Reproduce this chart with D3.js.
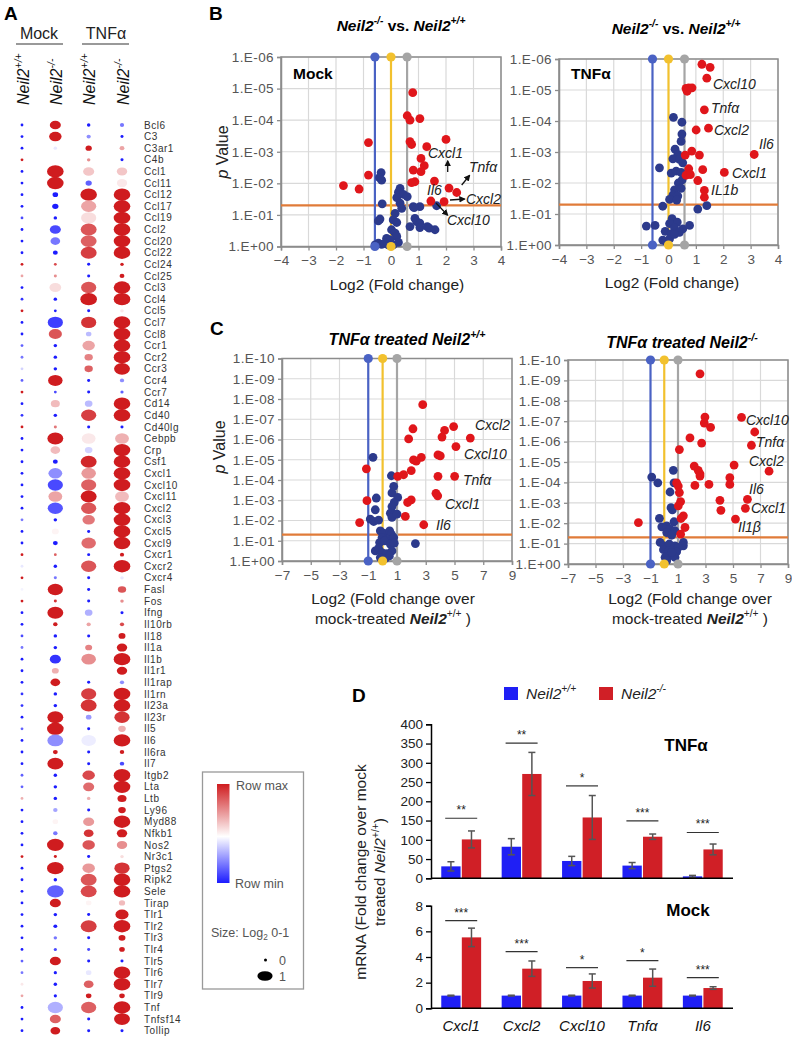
<!DOCTYPE html>
<html><head><meta charset="utf-8">
<script src="https://cdn.jsdelivr.net/npm/d3@7"></script>
<style>
body{margin:0;background:#fff}
svg{display:block}
text{font-family:"Liberation Sans",Arial,Helvetica,sans-serif}
</style>
</head><body>
<svg id="fig" width="792" height="1037"></svg>
<script>
// ---------------- DATA ----------------
const genes = ["Bcl6","C3","C3ar1","C4b","Ccl1","Ccl11","Ccl12","Ccl17","Ccl19","Ccl2","Ccl20","Ccl22","Ccl24","Ccl25","Ccl3","Ccl4","Ccl5","Ccl7","Ccl8","Ccr1","Ccr2","Ccr3","Ccr4","Ccr7","Cd14","Cd40","Cd40lg","Cebpb","Crp","Csf1","Cxcl1","Cxcl10","Cxcl11","Cxcl2","Cxcl3","Cxcl5","Cxcl9","Cxcr1","Cxcr2","Cxcr4","Fasl","Fos","Ifng","Il10rb","Il18","Il1a","Il1b","Il1r1","Il1rap","Il1rn","Il23a","Il23r","Il5","Il6","Il6ra","Il7","Itgb2","Lta","Ltb","Ly96","Myd88","Nfkb1","Nos2","Nr3c1","Ptgs2","Ripk2","Sele","Tirap","Tlr1","Tlr2","Tlr3","Tlr4","Tlr5","Tlr6","Tlr7","Tlr9","Tnf","Tnfsf14","Tollip"];
const dotColumns = ["mockWT","mockKO","tnfWT","tnfKO"];
// row-scaled colour (-1 = row min, 1 = row max)
const colorMockWT = [-1,-1,-1,1,-1,-1,-1,-1,-0.8,-1,-1,-1,1,0.4,-1,-0.9,1,-1,-1,-0.7,-0.6,-0.2,-0.7,1,-1,-0.9,1,-1,-1,-1,-1,-1,-1,-1,-0.6,-1,-1,1,-0.1,1,-0.05,1,-1,-1,-0.8,-0.6,-1,-1,-1,-0.9,-0.9,-1,-0.7,-1,-1,-1,-0.7,-0.7,0.35,-1,-1,-1,-1,1,-1,-1,-1,-1,-1,-1,-1,-1,-0.7,-0.6,0.1,0.4,-1,-1,-1];
const sizeMockWT = [0,0,0,0,0,0,0,0,0,0,0,0,0,0,0,0,0,0,0,0,0,0,0,0,0,0,0,0,0,0,0,0,0,0,0,0,0,0,0,0,0,0,0,0,0,0,0,0,0,0,0,0,0,0,0,0,0,0,0,0,0,0,0,0,0,0,0,0,0,0,0,0,0,0,0,0,0,0,0];
const colorMockKO = [1,1,-0.1,0,1,1,-1,-1,-1,-0.8,-0.6,-1,0.8,0.5,0.15,-1,-1,-0.85,0.75,-1,-1,-1,1,-0.8,0.3,-1,0.6,1,0.3,-1,-0.5,-0.8,0.4,-0.75,-1,0.05,-1,0.7,-1,-0.6,1,0.9,1,1,-1,-1,-0.9,0.35,1,-1,-1,1,1,-0.5,1,1,-1,-1,-1,-0.4,0.05,-0.6,1,1,1,-1,-0.7,1,-1,-1,-0.6,-0.8,1,-1,-1,-1,-0.35,0.7,1];
const sizeMockKO = [0.6,0.7,0.05,0,1,1,0.2,0.25,0.05,0.6,0.5,0.15,0,0.02,0.65,0.05,0,0.9,0.75,0.05,0.05,0.05,0.85,0,0.45,0.05,0.02,0.95,0.5,0.15,0.8,0.9,0.8,0.9,0.05,0.3,0.15,0,0.05,0.02,0.9,0.02,0.95,0.12,0.05,0.05,0.6,0.3,0.5,0.05,0.05,0.95,1,0.95,0.15,0.95,0.05,0.05,0.05,0.12,0.2,0.12,1,0.02,1,0.05,1,0.6,0.05,0.08,0.05,0.03,0.6,0.03,0.05,0.03,0.9,0.6,0.5];
const colorTnfWT = [-1,-0.5,1,0.5,0.25,-0.7,1,0.4,0.15,0.75,0.7,0.85,-1,-1,0.75,1,-1,0.9,-0.3,0.4,0.55,0.7,-1,-1,-0.3,0.85,-1,0.1,-0.2,0.95,0.45,0.7,1,0.75,0.6,-1,0.65,-1,0.75,-1,-1,-1,-0.35,0.4,-1,0.55,0.5,0,-1,0.85,0.9,-0.45,-1,-0.08,-1,-1,0.8,0.65,0.35,-1,0.45,0.9,0.75,-1,0.45,0.75,0.8,0.05,-1,0.85,-1,-0.8,-1,-0.1,0.7,1,0.7,-1,-1];
const sizeTnfWT = [0.05,0.1,0.25,0.05,0.6,0.25,1,0.9,0.9,0.95,0.95,0.95,0.02,0.02,0.9,1,0.02,0.9,0.2,0.7,0.4,0.4,0.02,0.02,0.35,0.9,0.02,0.8,0.35,0.95,0.85,0.9,0.95,0.9,0.7,0.02,0.85,0.02,0.9,0.02,0.02,0.02,0.35,0.1,0.02,0.3,0.85,0.05,0.02,0.9,0.95,0.2,0.02,0.85,0.02,0.02,0.7,0.6,0.05,0.02,0.6,0.5,0.7,0.02,0.7,0.95,0.95,0.2,0.02,0.95,0.02,0.02,0.02,0.2,0.5,0.2,0.9,0.02,0.02];
const colorTnfKO = [-0.6,-1,0.4,-1,0.25,0.1,1,1,1,1,1,1,1,1,1,1,0.1,1,1,1,1,1,-0.5,-0.7,1,1,-1,0.35,1,1,1,1,0.3,1,1,1,1,1,1,-0.1,0.75,0.5,-1,0.8,1,1,1,1,-0.5,1,1,0.9,0.35,1,1,-0.8,1,1,1,1,1,1,0.5,0.15,0.9,1,1,0.3,1,1,1,1,-1,1,1,1,1,1,-1];
const sizeTnfKO = [0.1,0.02,0.15,0.02,0.55,0.55,1,1,1,1,1,1,0.05,0.15,1,1,0.05,1,1,1,1,0.95,0.1,0.03,1,1,0.02,0.8,1,1,1,1,0.8,1,1,1,1,0.1,1,0.05,0.4,0.05,0.02,0.1,0.3,0.55,1,0.55,0.1,1,1,0.9,0.35,1,0.12,0.12,1,1,0.45,0.35,1,0.55,0.55,0.05,0.9,1,1,0.25,0.75,1,0.3,0.2,0.02,1,1,0.2,1,0.95,0.02];

// Volcano plots: [log2 fold change, -log10 p]
const bMockUp = [[0.79,4.87],[0.59,4.14],[0.69,4.0],[1.05,4.05],[-0.82,3.29],[0.69,3.32],[0.75,3.23],[2.0,3.39],[1.3,3.16],[1.09,2.79],[1.21,2.56],[0.81,2.42],[1.09,2.37],[-0.82,2.26],[0.87,2.05],[0.75,2.02],[1.58,2.07],[-1.73,1.93],[-1.16,1.82],[2.11,1.85],[2.39,1.71],[1.45,1.44],[1.93,1.42]];
const bMockNs = [[-0.36,2.34],[-0.42,2.18],[-0.34,2.1],[0.33,1.84],[0.27,1.72],[0.45,1.65],[0.21,1.55],[0.59,1.58],[0.33,1.37],[-0.32,1.35],[0.81,1.26],[1.05,1.26],[0.84,1.23],[0.39,1.21],[0.15,1.05],[1.66,1.29],[-0.4,0.87],[-0.46,0.81],[0.08,0.84],[0.21,0.76],[0.87,0.89],[0.93,0.79],[1.05,0.74],[0.69,0.63],[1.05,0.6],[1.32,0.63],[1.39,0.58],[1.6,0.53],[0.02,0.53],[0.15,0.42],[0.21,0.32],[-0.04,0.21],[-0.16,0.26],[-0.46,0.11],[-0.34,0.07],[-0.1,0.05],[0.08,0.05],[0.27,0.13],[-0.22,0.11],[-0.58,0.05]];
const bTnfUp = [[1.22,5.83],[1.52,5.73],[1.40,5.38],[0.64,5.05],[0.74,5.07],[0.86,5.07],[0.68,4.96],[1.31,4.36],[1.46,3.77],[1.01,3.71],[3.13,2.92],[0.85,3.03],[1.13,2.9],[0.61,2.9],[0.74,2.46],[1.25,2.43],[2.04,2.34],[0.64,2.25],[0.8,2.27],[1.07,2.08],[1.31,1.76],[1.31,1.54]];
const bTnfNs = [[0.18,4.12],[0.49,3.96],[0.49,3.58],[0.46,3.34],[0.24,3.09],[0.34,2.92],[0.16,2.78],[0.4,2.76],[0.52,2.65],[-0.33,2.49],[0.1,2.32],[0.28,2.38],[0.46,2.34],[0.5,2.1],[0.36,2.0],[0.22,1.78],[0.46,1.83],[0.16,1.61],[0.34,1.58],[0.04,1.47],[0.3,1.45],[-0.21,1.25],[1.07,1.16],[1.4,1.27],[0.13,0.85],[0.32,0.74],[-0.81,0.61],[-0.49,0.63],[0.04,0.69],[0.22,0.55],[0.52,0.52],[0.77,0.63],[-0.12,0.44],[0.1,0.36],[0.4,0.41],[-0.21,0.16],[-0.09,0.12],[0.04,0.2],[0.22,0.34]];
const cWTUp = [[2.79,7.72],[2.11,6.53],[1.81,6.03],[4.94,6.64],[4.31,6.45],[4.13,6.12],[6.1,6.07],[5.1,5.65],[3.85,5.24],[4.01,5.19],[2.69,5.12],[2.34,4.93],[2.15,4.99],[-1.13,4.55],[1.99,4.46],[1.46,4.26],[1.05,4.18],[3.85,4.18],[5.01,4.18],[3.71,3.34],[3.83,3.22],[1.99,3.02],[1.74,2.89],[-1.09,2.98],[1.58,2.2],[-1.6,1.9],[2.86,1.79]];
const cWTNs = [[-0.67,5.12],[0.61,4.21],[0.77,3.69],[0.65,3.36],[-0.44,3.11],[1.05,3.14],[0.81,2.89],[0.65,2.69],[-0.51,2.53],[0.54,2.36],[0.84,2.31],[0.65,2.15],[1.0,2.31],[-0.86,2.07],[-0.62,1.95],[-0.28,2.02],[-0.16,1.49],[0.07,1.37],[0.49,1.49],[0.61,1.32],[-0.04,1.16],[0.3,1.07],[0.77,1.16],[-0.21,0.91],[0.14,0.99],[0.54,0.83],[0.81,0.88],[2.28,0.86],[-0.51,0.5],[-0.28,0.63],[-0.04,0.41],[0.3,0.36],[0.65,0.5],[-0.16,0.17],[0.19,0.13],[0.47,0.25]];
const cKOUp = [[2.6,9.32],[2.96,7.2],[2.91,6.91],[3.37,6.7],[5.62,7.19],[6.58,6.47],[6.34,5.82],[1.87,6.18],[2.72,5.93],[1.1,5.61],[5.08,4.85],[7.62,4.55],[2.18,4.8],[2.47,4.59],[2.6,4.42],[2.6,4.31],[4.77,4.23],[4.77,3.9],[2.23,3.85],[3.25,3.9],[0.9,3.98],[1.02,3.82],[1.1,3.5],[1.19,3.06],[1.02,2.85],[4.05,3.12],[6.05,3.17],[4.12,2.63],[5.9,2.73],[5.18,2.2],[1.39,2.36],[1.22,2.23],[1.51,1.79],[-1.88,2.03],[1.19,1.46]];
const cKONs = [[-0.91,4.26],[-0.47,3.98],[0.66,4.59],[0.71,3.98],[0.42,3.53],[0.49,2.76],[0.59,2.65],[-0.35,2.24],[0.71,2.07],[-0.18,1.82],[0.18,1.87],[0.42,1.71],[0.78,1.63],[0.18,1.54],[0.54,1.41],[-0.3,1.06],[-0.01,0.89],[0.37,0.98],[0.78,0.89],[1.39,1.06],[1.39,0.89],[-0.06,0.7],[0.3,0.65],[0.66,0.73],[1.02,0.81],[0.9,0.6],[0.06,0.33],[0.42,0.41],[0.78,0.33],[0.18,0.16],[0.54,0.57]];

// Panel D: qPCR
const qGenes = ["Cxcl1","Cxcl2","Cxcl10","Tnfα","Il6"];
const tnfWTmean = [31,82,45,33,5];
const tnfWTerr  = [12,21,12,8,2.5];
const tnfKOmean = [101,271,158,108,75];
const tnfKOerr  = [22,56,57,7,14];
const tnfSig    = ["**","**","*","***","***"];
const tnfSigAt  = [156,351,240,149,119];
const mockWTmean = [0.99,0.99,0.99,0.99,0.99];
const mockWTerr  = [0.03,0.03,0.03,0.03,0.03];
const mockKOmean = [5.53,3.09,2.13,2.39,1.58];
const mockKOerr  = [0.72,0.6,0.55,0.67,0.1];
const mockSig    = ["***","***","*","*","***"];
const mockSigAt  = [6.83,4.42,3.17,3.71,2.39];

// ---------------- HELPERS ----------------
const svg = d3.select("#fig");
function rich(parent, x, y, parts, o = {}) {
  const fs = o.size || 14;
  const t = parent.append("text").attr("x", x).attr("y", y)
    .attr("font-size", fs).attr("text-anchor", o.anchor || "start")
    .attr("fill", o.fill || "#000");
  if (o.transform) t.attr("transform", o.transform);
  if (o.weight) t.attr("font-weight", o.weight);
  if (o.style) t.attr("font-style", o.style);
  if (o.ls) t.attr("letter-spacing", o.ls);
  let cur = 0;
  parts.forEach(p => {
    const ts = t.append("tspan").text(p.t);
    if (p.i) ts.attr("font-style", "italic");
    if (p.n) ts.attr("font-style", "normal");
    if (p.b) ts.attr("font-weight", "bold");
    const target = p.sup ? -fs * 0.42 : (p.sub ? fs * 0.25 : 0);
    if (p.sup || p.sub) ts.attr("font-size", fs * 0.66);
    if (target !== cur) { ts.attr("dy", target - cur); cur = target; }
  });
  return t;
}
const neilKO = (b) => [{t:"Neil2", i:1, b}, {t:"-/-", sup:1, i:1, b}];
const neilWT = (b) => [{t:"Neil2", i:1, b}, {t:"+/+", sup:1, i:1, b}];

// ---------------- PANEL A ----------------
const A = svg.append("g");
A.append("text").attr("x", 4).attr("y", 20).attr("font-size", 19).attr("font-weight", "bold").text("A");
A.append("text").attr("x", 39).attr("y", 39).attr("font-size", 16).attr("text-anchor", "middle").attr("fill", "#222").text("Mock");
A.append("text").attr("x", 106).attr("y", 39).attr("font-size", 16).attr("text-anchor", "middle").attr("fill", "#222").text("TNFα");
A.append("line").attr("x1", 16).attr("x2", 63).attr("y1", 44).attr("y2", 44).attr("stroke", "#777").attr("stroke-width", 1.5);
A.append("line").attr("x1", 82).attr("x2", 129).attr("y1", 44).attr("y2", 44).attr("stroke", "#777").attr("stroke-width", 1.5);

const xCol = d3.scalePoint().domain(dotColumns).range([22, 122]);
const yRow = d3.scalePoint().domain(genes).range([125, 1030.7]);
const colLabelParts = [neilWT(), neilKO(), neilWT(), neilKO()];
dotColumns.forEach((c, k) => {
  const cx = xCol(c) + 6.5;
  rich(A, 0, 0, colLabelParts[k], {size: 16, transform: `translate(${cx},105) rotate(-90)`, fill: "#111"});
});
const heat = d3.scaleLinear().domain([-1, 0, 1]).range(["#1c1cff", "#ffffff", "#cf1c1f"]).interpolate(d3.interpolateRgb);
const rx = d3.scaleLinear().domain([0, 1]).range([1.4, 8.3]);
const ry = d3.scaleLinear().domain([0, 1]).range([1.4, 6.2]);
const colData = {mockWT: [colorMockWT, sizeMockWT], mockKO: [colorMockKO, sizeMockKO], tnfWT: [colorTnfWT, sizeTnfWT], tnfKO: [colorTnfKO, sizeTnfKO]};
dotColumns.forEach(c => {
  const [cols, sizes] = colData[c];
  A.append("g").selectAll("ellipse").data(genes).join("ellipse")
    .attr("cx", xCol(c)).attr("cy", g => yRow(g))
    .attr("rx", (g, i) => rx(sizes[i])).attr("ry", (g, i) => ry(sizes[i]))
    .attr("fill", (g, i) => heat(cols[i]));
});
A.append("g").selectAll("text").data(genes).join("text")
  .attr("x", 144).attr("y", g => yRow(g) + 3.6).attr("font-size", 10).attr("letter-spacing", 0.55)
  .attr("fill", "#333").text(g => g);

// legend
const defs = svg.append("defs");
const grad = defs.append("linearGradient").attr("id", "rowgrad").attr("x1", 0).attr("x2", 0).attr("y1", 0).attr("y2", 1);
grad.append("stop").attr("offset", "0%").attr("stop-color", "#cf1c1f");
grad.append("stop").attr("offset", "53%").attr("stop-color", "#ffffff");
grad.append("stop").attr("offset", "100%").attr("stop-color", "#1c1cff");
const L = svg.append("g");
L.append("rect").attr("x", 202.5).attr("y", 772).attr("width", 101).attr("height", 217).attr("fill", "none").attr("stroke", "#999").attr("stroke-width", 1.3);
L.append("rect").attr("x", 217).attr("y", 784).attr("width", 12.5).attr("height", 99).attr("fill", "url(#rowgrad)");
L.append("text").attr("x", 236).attr("y", 790).attr("font-size", 12.5).attr("fill", "#555").text("Row max");
L.append("text").attr("x", 235).attr("y", 888).attr("font-size", 12.5).attr("fill", "#555").text("Row min");
rich(L, 211, 937, [{t:"Size: Log"}, {t:"2", sub:1}, {t:" 0-1"}], {size: 12.5, fill: "#555"});
L.append("ellipse").attr("cx", 265.5).attr("cy", 960).attr("rx", 1.5).attr("ry", 1.5).attr("fill", "#000");
L.append("ellipse").attr("cx", 265).attr("cy", 976).attr("rx", 7.6).attr("ry", 4.8).attr("fill", "#000");
L.append("text").attr("x", 279).attr("y", 964.5).attr("font-size", 12.5).attr("fill", "#555").text("0");
L.append("text").attr("x", 279).attr("y", 980.5).attr("font-size", 12.5).attr("fill", "#555").text("1");

// ---------------- VOLCANO ----------------
const upCol = "#e0161b", nsCol = "#2c3a8c";
function volcano(o) {
  const g = svg.append("g");
  const x = d3.scaleLinear().domain([o.xMin, o.xMax]).range([o.left, o.right]);
  const y = d3.scaleLinear().domain([0, o.yMax]).range([o.bottom, o.top]);
  const xt = d3.range(o.xMin, o.xMax + 0.001, o.xStep);
  const yt = d3.range(0, o.yMax + 0.001, 1);
  g.append("g").selectAll("line").data(xt).join("line")
    .attr("x1", d => x(d)).attr("x2", d => x(d)).attr("y1", o.top).attr("y2", o.bottom)
    .attr("stroke", "#d9d9d9").attr("stroke-width", 1.2);
  g.append("g").selectAll("line").data(yt).join("line")
    .attr("x1", o.left).attr("x2", o.right).attr("y1", d => y(d)).attr("y2", d => y(d))
    .attr("stroke", "#d9d9d9").attr("stroke-width", 1.2);
  g.append("rect").attr("x", o.left).attr("y", o.top).attr("width", o.right - o.left).attr("height", o.bottom - o.top)
    .attr("fill", "none").attr("stroke", "#8c8c8c").attr("stroke-width", 1.5);
  const fmt = d => d === 0 ? "1.E+00" : "1.E-" + String(d).padStart(2, "0");
  const ay = g.append("g").attr("transform", `translate(${o.left},0)`)
    .call(d3.axisLeft(y).tickValues(yt).tickFormat(fmt).tickSize(4).tickPadding(3));
  const ax = g.append("g").attr("transform", `translate(0,${o.bottom})`)
    .call(d3.axisBottom(x).tickValues(xt).tickFormat(d3.format("d")).tickSize(4).tickPadding(5));
  [ay, ax].forEach(a => {
    a.select(".domain").attr("stroke", "#8c8c8c").attr("stroke-width", 1.5);
    a.selectAll(".tick line").attr("stroke", "#8c8c8c").attr("stroke-width", 1.3);
    a.selectAll(".tick text").attr("font-size", 13.5).attr("fill", "#555").attr("font-family", '"Liberation Sans",Arial,sans-serif');
  });
  ay.selectAll(".tick text").attr("letter-spacing", 0.4);
  // threshold lines
  g.append("line").attr("x1", o.left).attr("x2", o.right).attr("y1", y(o.pThr)).attr("y2", y(o.pThr))
    .attr("stroke", "#e07b39").attr("stroke-width", 2.2);
  const vl = [[-o.fc, "#4a62c4"], [0, "#f2c12e"], [o.fc, "#a5a5a5"]];
  vl.forEach(([v, c]) => {
    g.append("line").attr("x1", x(v)).attr("x2", x(v)).attr("y1", o.top).attr("y2", o.bottom).attr("stroke", c).attr("stroke-width", 2.2);
  });
  g.append("g").selectAll("circle").data(o.ns).join("circle")
    .attr("cx", d => x(d[0])).attr("cy", d => y(d[1])).attr("r", 4.4).attr("fill", nsCol);
  g.append("g").selectAll("circle").data(o.up).join("circle")
    .attr("cx", d => x(d[0])).attr("cy", d => y(d[1])).attr("r", 4.4).attr("fill", upCol);
  vl.forEach(([v, c]) => {
    [o.top, o.bottom].forEach(yy => g.append("circle").attr("cx", x(v)).attr("cy", yy).attr("r", 4.6).attr("fill", c));
  });
  return {g, x, y};
}

// Panel B
svg.append("text").attr("x", 209).attr("y", 20).attr("font-size", 19).attr("font-weight", "bold").text("B");
const bL = volcano({left: 281, right: 501, top: 57, bottom: 246.5, xMin: -4, xMax: 4, xStep: 1, yMax: 6, fc: 0.585, pThr: 1.301, up: bMockUp, ns: bMockNs});
const bR = volcano({left: 559, right: 778, top: 59, bottom: 245, xMin: -4, xMax: 4, xStep: 1, yMax: 6, fc: 0.585, pThr: 1.301, up: bTnfUp, ns: bTnfNs});
const titleB = [{t:"Neil2", i:1}, {t:"-/-", sup:1, i:1}, {t:" vs. ", n:1}, {t:"Neil2", i:1}, {t:"+/+", sup:1, i:1}];
rich(svg, 401, 31, titleB, {size: 15.5, anchor: "middle", weight: "bold", style: "italic"});
rich(svg, 676, 34, titleB, {size: 15.5, anchor: "middle", weight: "bold", style: "italic"});
svg.append("text").attr("x", 293).attr("y", 79).attr("font-size", 15.5).attr("font-weight", "bold").text("Mock");
svg.append("text").attr("x", 571).attr("y", 79).attr("font-size", 15.5).attr("font-weight", "bold").text("TNFα");
svg.append("text").attr("x", 397).attr("y", 290).attr("font-size", 15.5).attr("text-anchor", "middle").attr("fill", "#222").text("Log2 (Fold change)");
svg.append("text").attr("x", 672).attr("y", 288).attr("font-size", 15.5).attr("text-anchor", "middle").attr("fill", "#222").text("Log2 (Fold change)");
rich(svg, 0, 0, [{t:"p", i:1}, {t:" Value"}], {size: 16, anchor: "middle", fill: "#222", transform: "translate(228,152) rotate(-90)"});

function lab(x, y, t, size = 14) {
  svg.append("text").attr("x", x).attr("y", y).attr("font-size", size).attr("font-style", "italic").attr("fill", "#222").text(t);
}
// B-left annotations
lab(428, 158, "Cxcl1");
lab(469, 172, "Tnfα");
lab(466, 204, "Cxcl2");
lab(427, 195, "Il6");
lab(447, 225, "Cxcl10");
defs.append("marker").attr("id", "arr").attr("viewBox", "0 0 10 10").attr("refX", 8).attr("refY", 5)
  .attr("markerWidth", 5).attr("markerHeight", 5).attr("orient", "auto")
  .append("path").attr("d", "M0,0 L10,5 L0,10 z").attr("fill", "#111");
[[447.7,172,447.7,161],[461.7,185,469.5,175.5],[450,200,464.5,199],[436,203,447.5,215]].forEach(a => {
  svg.append("line").attr("x1", a[0]).attr("y1", a[1]).attr("x2", a[2]).attr("y2", a[3])
    .attr("stroke", "#111").attr("stroke-width", 1.3).attr("marker-end", "url(#arr)");
});
// B-right annotations
lab(713, 89, "Cxcl10");
lab(711, 113, "Tnfα");
lab(714, 135, "Cxcl2");
lab(759, 149, "Il6");
lab(732, 178, "Cxcl1");
lab(711, 195, "IL1b");

// Panel C
svg.append("text").attr("x", 210).attr("y", 335).attr("font-size", 19).attr("font-weight", "bold").text("C");
const cL = volcano({left: 282, right: 512, top: 358.5, bottom: 561, xMin: -7, xMax: 9, xStep: 2, yMax: 10, fc: 1, pThr: 1.301, up: cWTUp, ns: cWTNs});
const cR = volcano({left: 568, right: 788, top: 360, bottom: 564, xMin: -7, xMax: 9, xStep: 2, yMax: 10, fc: 1, pThr: 1.301, up: cKOUp, ns: cKONs});
rich(svg, 407, 345, [{t:"TNFα treated "}, {t:"Neil2"}, {t:"+/+", sup:1}], {size: 16, anchor: "middle", weight: "bold", style: "italic"});
rich(svg, 682, 348, [{t:"TNFα treated "}, {t:"Neil2"}, {t:"-/-", sup:1}], {size: 16, anchor: "middle", weight: "bold", style: "italic"});
rich(svg, 0, 0, [{t:"p", i:1}, {t:" Value"}], {size: 16, anchor: "middle", fill: "#222", transform: "translate(225,447) rotate(-90)"});
[[393], [690]].forEach(([cx]) => {
  svg.append("text").attr("x", cx).attr("y", 604).attr("font-size", 15.5).attr("text-anchor", "middle").attr("fill", "#222").text("Log2 (Fold change over");
  rich(svg, cx, 624, [{t:"mock-treated "}, {t:"Neil2", b:1, i:1}, {t:"+/+", sup:1}, {t:" )"}], {size: 15.5, anchor: "middle", fill: "#222"});
});
lab(475, 430, "Cxcl2");
lab(464, 459, "Cxcl10");
lab(463, 485, "Tnfα");
lab(445, 509, "Cxcl1");
lab(436, 530, "Il6");
lab(746, 425, "Cxcl10");
lab(756, 447, "Tnfα");
lab(749, 466, "Cxcl2");
lab(749, 494, "Il6");
lab(751, 513, "Cxcl1");
lab(738, 532, "Il1β");

// ---------------- PANEL D ----------------
svg.append("text").attr("x", 352).attr("y", 702).attr("font-size", 19).attr("font-weight", "bold").text("D");
const blueBar = "#1f1ff5", redBar = "#d01f26";
svg.append("rect").attr("x", 504).attr("y", 687).attr("width", 14).attr("height", 13).attr("fill", blueBar);
rich(svg, 526, 699, neilWT(), {size: 15.5, fill: "#222"});
svg.append("rect").attr("x", 599).attr("y", 687).attr("width", 14).attr("height", 13).attr("fill", redBar);
rich(svg, 621, 699, neilKO(), {size: 15.5, fill: "#222"});

const xq = d3.scaleBand().domain(qGenes).range([431, 733]).paddingInner(0.34).paddingOuter(0.17);
const xs = d3.scaleBand().domain(["wt", "ko"]).range([0, xq.bandwidth()]).paddingInner(0.06);
function barChart(o) {
  const g = svg.append("g");
  const y = d3.scaleLinear().domain([0, o.max]).range([o.bottom, o.top]);
  const ay = g.append("g").attr("transform", `translate(${431},0)`)
    .call(d3.axisLeft(y).tickValues(d3.range(0, o.max + 0.001, o.step)).tickSize(5).tickPadding(3));
  ay.select(".domain").attr("stroke", "#000").attr("stroke-width", 1.5);
  ay.selectAll(".tick line").attr("stroke", "#000").attr("stroke-width", 1.3);
  ay.selectAll(".tick text").attr("font-size", 13.5).attr("fill", "#222").attr("font-family", '"Liberation Sans",Arial,sans-serif');
  const series = [["wt", o.wt, o.wtErr, blueBar], ["ko", o.ko, o.koErr, redBar]];
  series.forEach(([k, m, e, c]) => {
    g.append("g").selectAll("rect").data(qGenes).join("rect")
      .attr("x", d => xq(d) + xs(k)).attr("width", xs.bandwidth())
      .attr("y", (d, i) => y(m[i])).attr("height", (d, i) => y(0) - y(m[i]))
      .attr("fill", c);
    const eg = g.append("g").attr("stroke", "#555").attr("stroke-width", 1.5);
    qGenes.forEach((d, i) => {
      const cx = xq(d) + xs(k) + xs.bandwidth() / 2;
      const y1 = y(m[i] + e[i]), y2 = y(Math.max(0, m[i] - e[i]));
      eg.append("line").attr("x1", cx).attr("x2", cx).attr("y1", y1).attr("y2", y2);
      eg.append("line").attr("x1", cx - 3.5).attr("x2", cx + 3.5).attr("y1", y1).attr("y2", y1);
      eg.append("line").attr("x1", cx - 3.5).attr("x2", cx + 3.5).attr("y1", y2).attr("y2", y2);
    });
  });
  g.append("line").attr("x1", 431).attr("x2", 733).attr("y1", y(0)).attr("y2", y(0)).attr("stroke", "#000").attr("stroke-width", 1.6);
  qGenes.forEach((d, i) => {
    const cx = xq(d) + xq.bandwidth() / 2;
    const ly = y(o.sigAt[i]);
    g.append("line").attr("x1", cx - 16).attr("x2", cx + 16).attr("y1", ly).attr("y2", ly).attr("stroke", "#333").attr("stroke-width", 1.2);
    g.append("text").attr("x", cx).attr("y", ly - 4).attr("text-anchor", "middle").attr("font-size", 12).attr("fill", "#222").text(o.sig[i]);
  });
  return y;
}
barChart({top: 724.3, bottom: 878.3, max: 400, step: 50, wt: tnfWTmean, wtErr: tnfWTerr, ko: tnfKOmean, koErr: tnfKOerr, sig: tnfSig, sigAt: tnfSigAt});
barChart({top: 905.7, bottom: 1008.3, max: 8, step: 2, wt: mockWTmean, wtErr: mockWTerr, ko: mockKOmean, koErr: mockKOerr, sig: mockSig, sigAt: mockSigAt});
svg.append("text").attr("x", 686).attr("y", 751).attr("font-size", 17).attr("font-weight", "bold").attr("text-anchor", "middle").text("TNFα");
svg.append("text").attr("x", 688).attr("y", 916).attr("font-size", 17).attr("font-weight", "bold").attr("text-anchor", "middle").text("Mock");
svg.append("g").selectAll("text").data(qGenes).join("text")
  .attr("x", d => xq(d) + xq.bandwidth() / 2).attr("y", 1031).attr("text-anchor", "middle")
  .attr("font-size", 15).attr("font-style", "italic").attr("fill", "#111").text(d => d);
svg.append("text").attr("font-size", 15.5).attr("text-anchor", "middle").attr("fill", "#222")
  .attr("transform", "translate(366,872) rotate(-90)").text("mRNA (Fold change over mock");
rich(svg, 0, 0, [{t:"treated "}, {t:"Neil2", i:1}, {t:"+/+", sup:1}, {t:")"}], {size: 15.5, anchor: "middle", fill: "#222", transform: "translate(385,872) rotate(-90)"});
</script>
</body></html>
